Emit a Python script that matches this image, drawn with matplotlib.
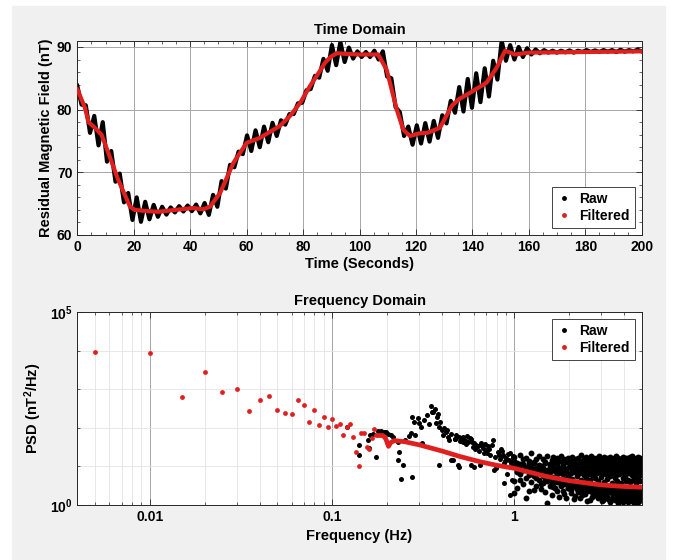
import numpy as np
import matplotlib
matplotlib.use("Agg")
import matplotlib.pyplot as plt
from matplotlib.lines import Line2D
from matplotlib.patches import Rectangle
from matplotlib.ticker import MultipleLocator, FixedLocator, NullFormatter, LogLocator

plt.rcParams["font.family"] = ["Liberation Sans", "DejaVu Sans"]
plt.rcParams["font.weight"] = "bold"
plt.rcParams["axes.labelweight"] = "bold"
plt.rcParams["axes.titleweight"] = "bold"
plt.rcParams["mathtext.fontset"] = "custom"
plt.rcParams["mathtext.rm"] = "Liberation Sans:bold"
plt.rcParams["mathtext.bf"] = "Liberation Sans:bold"
plt.rcParams["mathtext.default"] = "bf"

RED = "#e0201f"
AX_COL = "#262626"

# ---- time domain: raw magnetometer trace (nT), evenly sampled over 0..200 s
raw_v = [
    83.8, 80.8, 80.7, 76.3, 79.0, 74.3, 78.0, 71.7, 73.4, 68.5,
    69.8, 65.2, 66.7, 62.4, 66.0, 62.1, 65.3, 62.5, 64.8, 62.9,
    64.5, 63.25, 64.4, 63.6, 64.6, 63.75, 64.7, 63.8, 64.85, 63.45,
    65.1, 63.2, 66.4, 64.5, 68.6, 67.4, 71.2, 70.8, 73.3, 72.9,
    75.9, 73.4, 76.7, 74.0, 77.3, 74.8, 77.9, 75.8, 78.3, 77.6,
    79.3, 79.3, 81.0, 81.1, 83.1, 83.3, 85.4, 85.1, 88.1, 86.2,
    90.3, 87.1, 90.8, 87.6, 89.9, 88.15, 89.3, 88.4, 89.2, 88.4,
    89.4, 88.0, 89.3, 85.3, 85.0, 80.4, 79.6, 75.8, 77.3, 74.4,
    77.5, 74.6, 77.85, 74.9, 78.2, 75.5, 79.1, 77.8, 81.4, 79.5,
    83.6, 79.7, 84.9, 80.3, 85.8, 81.2, 86.6, 82.1, 87.8, 84.8,
    91.0, 87.8, 90.3, 88.0, 90.0, 88.4, 89.8, 88.8, 89.6, 89.0,
    89.5, 89.1, 89.4, 89.1, 89.4, 89.15, 89.45, 89.1, 89.4, 89.2,
    89.5, 89.2, 89.45, 89.2, 89.5, 89.25, 89.5, 89.2, 89.55, 89.25,
    89.5, 89.3, 89.55, 89.3,
]
raw_t = np.linspace(0, 200, len(raw_v))

# filtered trace
filt_t = [0, 2.7, 4, 6, 8.6, 11, 14.5, 18.7, 20.4, 25, 28.7, 34.6, 41, 44.6, 47,
          50.6, 55.3, 60, 64.7, 71.8, 75.4, 79, 82.5, 85, 87.8, 90, 92, 95, 100,
          106.6, 109.6, 113.2, 115.5, 117.9, 121, 124, 128.5, 132.7, 135, 139.2,
          145, 148.6, 151.6, 155.1, 160, 180, 200]
filt_v = [83.3, 80.3, 78, 77.2, 76, 73.1, 68.8, 64.5, 64, 63.8, 63.7, 64, 64.3,
          64.1, 64.5, 66.7, 71.5, 74.7, 75.5, 77.4, 79, 81.1, 83.8, 85.5, 87.5,
          88.5, 89, 88.9, 88.8, 88.8, 86.4, 80, 76.8, 75.8, 76.2, 76.3, 77.1,
          80.6, 81.6, 82.7, 84.3, 86.7, 89.4, 88.8, 89.1, 89.2, 89.3]

# ---- frequency domain (PSD values as log10)
filt_f_pts = [0.005, 0.010, 0.015, 0.020, 0.025, 0.030, 0.035, 0.040, 0.045,
              0.050, 0.055, 0.060, 0.065, 0.070, 0.075, 0.080, 0.085, 0.090,
              0.095, 0.100, 0.105, 0.110, 0.115, 0.120, 0.125, 0.130, 0.135,
              0.140, 0.145, 0.150, 0.155, 0.160, 0.165, 0.170]
filt_logp_pts = [3.97, 3.93, 2.81, 3.45, 2.94, 3.00, 2.44, 2.72, 2.83, 2.46,
                 2.38, 2.35, 2.72, 2.59, 2.16, 2.46, 2.07, 2.29, 2.01, 2.22,
                 2.05, 2.10, 1.81, 2.01, 2.10, 1.75, 1.37, 1.02, 1.87, 1.86,
                 1.50, 1.44, 1.74, 1.96]

filt_f_line = [0.175, 0.19, 0.197, 0.204, 0.21, 0.22, 0.25, 0.3, 0.4, 0.5,
               0.65, 0.8, 1.0, 1.5, 2.0, 3.0, 4.0, 5.0]
filt_logp_line = [1.80, 1.80, 1.72, 1.52, 1.62, 1.67, 1.64, 1.56, 1.40, 1.26,
                  1.12, 1.03, 0.95, 0.74, 0.63, 0.52, 0.48, 0.46]

raw_f_low = [0.120, 0.141, 0.140, 0.157, 0.160, 0.162, 0.167, 0.175, 0.178,
             0.185, 0.192, 0.198, 0.203, 0.210, 0.215, 0.229, 0.233, 0.231,
             0.239, 0.244, 0.250, 0.265, 0.270, 0.275, 0.273, 0.282, 0.285,
             0.295, 0.300, 0.307, 0.310, 0.320, 0.333, 0.340, 0.348, 0.355,
             0.360, 0.365, 0.370, 0.375, 0.380, 0.385, 0.385, 0.390, 0.400,
             0.405, 0.410, 0.420, 0.430, 0.440, 0.450, 0.460, 0.470, 0.480,
             0.490, 0.495, 0.505, 0.520, 0.530, 0.540, 0.550, 0.560, 0.570,
             0.575, 0.590, 0.600, 0.610, 0.620, 0.640, 0.660, 0.680, 0.700,
             0.720, 0.740, 0.760, 0.780, 0.790, 0.810, 0.830, 0.850, 0.870,
             0.880, 0.900, 0.930, 0.950, 0.970, 0.985, 1.000,
             0.45, 0.50, 0.60, 0.65, 0.77, 0.88, 0.95, 0.52, 0.58, 0.63,
             0.67, 0.69, 0.73, 0.75, 0.82, 0.86, 0.89, 0.92, 0.96, 0.98,
             0.425, 0.475, 0.51, 0.545, 0.585, 0.615, 0.655, 0.71, 0.84, 0.91]
raw_logp_low = [2.01, 1.55, 1.30, 1.68, 1.47, 1.81, 1.83, 1.25, 1.92,
                1.92, 1.90, 1.90, 1.84, 1.81, 1.77, 1.64, 1.38, 1.17,
                0.67, 1.04, 1.68, 1.80, 1.87, 2.27, 0.72, 2.16, 1.81,
                2.25, 2.12, 2.03, 1.60, 2.20, 2.33, 2.10, 2.56, 2.40,
                2.42, 2.48, 2.12, 2.29, 2.35, 2.03, 1.04, 2.15, 1.94,
                1.81, 2.00, 1.88, 1.77, 1.68, 1.85, 1.17, 1.72, 1.81,
                1.04, 1.77, 1.65, 1.77, 1.68, 1.58, 1.79, 1.62, 1.73,
                1.04, 1.50, 1.60, 1.45, 1.55, 1.40, 1.60, 1.35, 1.42,
                1.52, 1.30, 1.68, 1.25, 0.95, 1.38, 1.20, 1.45, 1.30,
                1.10, 1.21, 1.17, 1.34, 0.65, 1.28, 0.30,
                1.17, 0.99, 0.99, 1.04, 0.90, 0.56, 0.26, 1.62, 1.70, 1.52,
                1.48, 1.58, 1.45, 1.55, 1.30, 1.40, 1.15, 1.32, 1.10, 1.22,
                1.95, 1.70, 1.74, 1.66, 1.64, 1.50, 1.56, 1.36, 1.24, 0.80]

# 1-5 Hz band: several PSD readings per frequency column
band_hi = [
    1.25, 1.10, 1.30, 1.05, 1.22, 1.15, 1.34, 1.08, 1.18, 1.26,
    1.02, 1.20, 1.12, 1.28, 1.06, 1.17, 1.24, 1.10, 1.21, 1.14,
    1.27, 1.04, 1.19, 1.11, 1.23, 1.16, 1.08, 1.25, 1.13, 1.20,
    1.06, 1.22, 1.15, 1.29, 1.09, 1.18, 1.12, 1.24, 1.07, 1.19,
    1.14, 1.26, 1.10, 1.21, 1.05, 1.17, 1.23, 1.11, 1.28, 1.08,
    1.16, 1.20, 1.13, 1.25, 1.06, 1.18, 1.22, 1.09, 1.15, 1.24,
    1.11, 1.19, 1.07, 1.21, 1.14, 1.26, 1.10, 1.17, 1.23, 1.05,
    1.20, 1.12, 1.18, 1.08, 1.25, 1.15, 1.21, 1.09, 1.16, 1.22,
    1.11, 1.19, 1.06, 1.24, 1.13, 1.17, 1.27, 1.10, 1.20, 1.14,
    1.08, 1.22, 1.16, 1.11, 1.25, 1.18, 1.09, 1.21, 1.13, 1.19, 1.15,
]
band_q = [
    1.15, 1.02, 0.94, 1.20, 0.90, 1.08, 0.96, 1.12, 0.86, 1.04,
    0.98, 0.89, 1.10, 0.83, 1.01, 0.92, 1.14, 0.87, 1.06, 0.95,
    0.84, 1.09, 0.97, 0.88, 1.12, 0.81, 1.03, 0.93, 1.07, 0.86,
    1.00, 0.91, 0.82, 1.11, 0.87, 1.04, 0.89, 0.99, 1.06, 0.80,
    1.02, 0.93, 1.08, 0.85, 0.97, 1.10, 0.82, 1.01, 0.90, 1.05,
    0.96, 1.09, 0.84, 1.03, 0.92, 0.80, 1.07, 0.98, 0.86, 1.04,
    0.94, 1.08, 0.99, 0.83, 1.02, 0.91, 0.85, 1.06, 0.97, 1.00,
    0.87, 1.04, 0.92, 1.01, 0.96, 0.84, 1.09, 0.99, 0.90, 1.03,
    1.06, 0.95, 0.88, 1.00, 0.93, 1.07, 0.82, 1.02, 0.97, 0.89,
    1.04, 0.98, 1.08, 0.86, 1.01, 0.94, 0.90, 1.05, 0.99, 0.87, 1.03,
]
band_mid = [
    1.00, 0.88, 1.05, 0.92, 0.98, 0.84, 1.02, 0.80, 0.95, 0.88,
    0.82, 0.97, 0.76, 0.90, 0.85, 0.99, 0.72, 0.93, 0.80, 0.87,
    0.95, 0.70, 0.84, 0.91, 0.76, 0.98, 0.82, 0.68, 0.89, 0.94,
    0.74, 0.86, 0.97, 0.66, 0.90, 0.79, 0.95, 0.71, 0.85, 0.92,
    0.64, 0.88, 0.78, 0.96, 0.69, 0.83, 0.91, 0.62, 0.87, 0.94,
    0.73, 0.80, 0.97, 0.60, 0.86, 0.92, 0.68, 0.82, 0.95, 0.75,
    0.89, 0.58, 0.84, 0.93, 0.71, 0.79, 0.96, 0.63, 0.88, 0.81,
    0.94, 0.57, 0.85, 0.90, 0.70, 0.98, 0.76, 0.61, 0.87, 0.92,
    0.66, 0.83, 0.95, 0.59, 0.89, 0.78, 0.93, 0.64, 0.86, 0.97,
    0.72, 0.81, 0.56, 0.91, 0.84, 0.68, 0.95, 0.62, 0.88, 0.79, 0.93,
]
band_lo = [
    0.30, 0.85, 0.65, 0.92, 0.17, 0.78, 0.88, 0.39, 0.70, 0.82,
    0.55, 0.76, 0.65, 0.04, 0.71, 0.58, 0.47, 0.68, 0.35, 0.62,
    0.52, 0.66, 0.28, 0.57, 0.45, 0.60, 0.38, 0.54, 0.15, 0.49,
    0.58, 0.33, 0.51, 0.44, 0.25, 0.55, 0.40, 0.48, 0.10, 0.46,
    0.36, 0.52, 0.22, 0.43, 0.49, 0.31, 0.41, 0.18, 0.47, 0.38,
    0.27, 0.44, 0.12, 0.40, 0.34, 0.46, 0.20, 0.37, 0.42, 0.08,
    0.39, 0.30, 0.43, 0.16, 0.35, 0.41, 0.24, 0.38, 0.06, 0.33,
    0.42, 0.21, 0.36, 0.29, 0.40, 0.13, 0.34, 0.39, 0.26, 0.31,
    0.09, 0.37, 0.23, 0.41, 0.32, 0.14, 0.38, 0.28, 0.35, 0.05,
    0.30, 0.40, 0.19, 0.33, 0.27, 0.36, 0.11, 0.32, 0.25, 0.38, 0.22,
]
band_lo2 = [
    0.62, 0.45, 0.80, 0.55, 0.71, 0.36, 0.60, 0.74, 0.50, 0.66,
    0.42, 0.58, 0.33, 0.61, 0.50, 0.27, 0.56, 0.44, 0.59, 0.21,
    0.48, 0.37, 0.54, 0.19, 0.43, 0.51, 0.32, 0.46, 0.55, 0.24,
    0.41, 0.50, 0.17, 0.45, 0.38, 0.52, 0.29, 0.43, 0.36, 0.49,
    0.14, 0.42, 0.33, 0.47, 0.26, 0.39, 0.45, 0.20, 0.37, 0.44,
    0.31, 0.11, 0.41, 0.35, 0.23, 0.43, 0.30, 0.16, 0.38, 0.34,
    0.44, 0.19, 0.32, 0.40, 0.12, 0.37, 0.28, 0.42, 0.22, 0.36,
    0.15, 0.33, 0.41, 0.25, 0.07, 0.38, 0.30, 0.19, 0.35, 0.27,
    0.40, 0.16, 0.31, 0.24, 0.36, 0.10, 0.29, 0.39, 0.18, 0.33,
    0.26, 0.13, 0.37, 0.21, 0.34, 0.08, 0.29, 0.39, 0.17, 0.31, 0.24,
]
band_f = np.linspace(1.0, 5.0, len(band_hi))


def style_axes(ax):
    for s in ax.spines.values():
        s.set_color(AX_COL)
        s.set_linewidth(0.7)
    ax.tick_params(which="both", direction="in", top=True, right=True,
                   colors=AX_COL, labelcolor="black", labelsize=10)
    ax.tick_params(which="major", length=4, width=0.6)
    ax.tick_params(which="minor", length=2, width=0.5)
    ax.set_axisbelow(True)


fig = plt.figure(figsize=(6.75, 5.6), dpi=100, facecolor="white")
fig.patches.append(Rectangle((12 / 675, 0), 653 / 675, 554 / 560,
                             transform=fig.transFigure, color="#f0f0f0", zorder=-10))

# ---------------- time domain
ax1 = fig.add_axes([0.1145, 0.5804, 0.8362, 0.3469])
ax1.plot(raw_t, raw_v, color="black", lw=3.0, solid_joinstyle="round", zorder=2)
ax1.plot(filt_t, filt_v, color=RED, lw=3.0, solid_capstyle="round", zorder=3)
ax1.set_xlim(0, 200)
ax1.set_ylim(60, 91)
ax1.xaxis.set_major_locator(MultipleLocator(20))
ax1.xaxis.set_minor_locator(MultipleLocator(5))
ax1.yaxis.set_major_locator(FixedLocator([60, 70, 80, 90]))
ax1.yaxis.set_minor_locator(MultipleLocator(2))
ax1.grid(True, which="major", color="#a6a6a6", lw=0.7)
style_axes(ax1)
ax1.set_title("Time Domain", fontsize=10.5, pad=5)
ax1.set_xlabel("Time (Seconds)", fontsize=10.5, labelpad=2)
ax1.set_ylabel("Residual Magnetic Field (nT)", fontsize=10.5, labelpad=3)

handles = [Line2D([], [], marker=".", ls="none", color="black", markersize=5),
           Line2D([], [], marker=".", ls="none", color=RED, markersize=5)]
leg_kw = dict(fontsize=10, frameon=True, fancybox=False, framealpha=1,
              edgecolor=AX_COL, handlelength=1.0, handletextpad=0.6,
              labelspacing=0.25, borderpad=0.35, borderaxespad=0.5)
lg = ax1.legend(handles, ["Raw", "Filtered"], loc="lower right", **leg_kw)
lg.get_frame().set_linewidth(0.6)

# ---------------- frequency domain
ax2 = fig.add_axes([0.1145, 0.0982, 0.8362, 0.3446])
ax2.set_xscale("log")
ax2.set_yscale("log")
ax2.scatter(raw_f_low, 10 ** np.array(raw_logp_low), s=13, color="black",
            linewidths=0, zorder=2)
for vals in (band_hi, band_q, band_mid, band_lo, band_lo2):
    ax2.scatter(band_f, 10 ** np.array(vals), s=18, color="black",
                linewidths=0, zorder=2)
ax2.scatter(filt_f_pts, 10 ** np.array(filt_logp_pts), s=12, color=RED,
            linewidths=0, zorder=3)
ax2.plot(filt_f_line, 10 ** np.array(filt_logp_line), color=RED, lw=3.4,
         solid_capstyle="round", zorder=4)
ax2.set_xlim(0.004, 5)
ax2.set_ylim(1, 1e5)
ax2.xaxis.set_major_locator(FixedLocator([0.01, 0.1, 1]))
ax2.set_xticklabels(["0.01", "0.1", "1"])
ax2.xaxis.set_minor_locator(LogLocator(base=10, subs=np.arange(2, 10), numticks=20))
ax2.xaxis.set_minor_formatter(NullFormatter())
ax2.yaxis.set_major_locator(FixedLocator([1, 1e5]))
ax2.set_yticklabels([r"$10^{0}$", r"$10^{5}$"])
ax2.yaxis.set_minor_locator(FixedLocator([10, 100, 1000, 10000]))
ax2.yaxis.set_minor_formatter(NullFormatter())
ax2.grid(True, which="major", color="#a6a6a6", lw=0.7)
ax2.grid(True, which="minor", color="#e4e4e4", lw=0.6)
style_axes(ax2)
ax2.set_title("Frequency Domain", fontsize=10.5, pad=5)
ax2.set_xlabel("Frequency (Hz)", fontsize=10.5, labelpad=4)
ax2.set_ylabel(r"PSD (nT$^2$/Hz)", fontsize=10.5, labelpad=4)
lg2 = ax2.legend(handles, ["Raw", "Filtered"], loc="upper right", **leg_kw)
lg2.get_frame().set_linewidth(0.6)

fig.savefig("out.png", dpi=100, facecolor=fig.get_facecolor())
